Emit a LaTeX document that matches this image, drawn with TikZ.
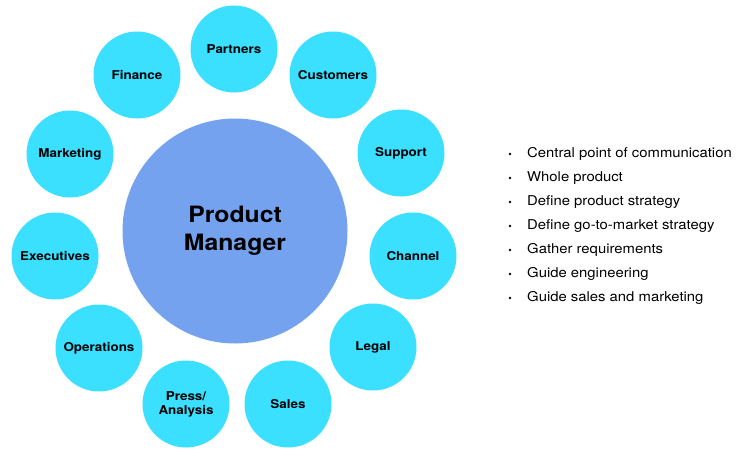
\documentclass[tikz,border=0pt]{standalone}
\usepackage{fontspec}
\setmainfont[FakeStretch=1.1]{TeX Gyre Heros}
\definecolor{petalo}{HTML}{3BDFFF}
\definecolor{centro}{HTML}{74A2EF}

\begin{document}
\begin{tikzpicture}[x=1pt,y=-1pt]
	\tikzset{ruolo/.style={circle, fill=petalo, minimum size=87pt, inner sep=0pt, align=center, font=\bfseries\fontsize{12.2}{14}\selectfont}}
	\tikzset{voce/.style={anchor=west, inner sep=0pt, font=\fontsize{13.5}{15}\selectfont}}
	\useasboundingbox (0,0) rectangle (751,455);
	
	% Cerchio centrale
	\node[circle, fill=centro, minimum size=225pt, inner sep=0pt, align=center, font=\bfseries\fontsize{22.5}{28}\selectfont] (PM) at (235,231) {Product\\Manager};
	
	% Cerchi periferici
	\node[ruolo] (P) at (234,49) {Partners};
	\node[ruolo] (Cu) at (333,75) {Customers};
	\node[ruolo] (Su) at (401,153) {Support};
	\node[ruolo] (Ch) at (413,256) {Channel};
	\node[ruolo] (Le) at (373,347) {Legal};
	\node[ruolo] (Sa) at (288,404) {Sales};
	\node[ruolo] (Pr) at (186,404) {Press/\\Analysis};
	\node[ruolo] (Op) at (99,348) {Operations};
	\node[ruolo] (Ex) at (55,256) {Executives};
	\node[ruolo] (Ma) at (70,154) {Marketing};
	\node[ruolo] (Fi) at (137,75) {Finance};
	
	% Elenco puntato
	\foreach \t [count=\i] in {Central point of communication, Whole product, Define product strategy, Define go-to-market strategy, Gather requirements, Guide engineering, Guide sales and marketing}
	{
		\node[voce] (L\i) at (527,130+24*\i) {\t};
		\fill (L\i.west) ++(-17,0) circle (1.4pt);
	}
\end{tikzpicture}
\end{document}
